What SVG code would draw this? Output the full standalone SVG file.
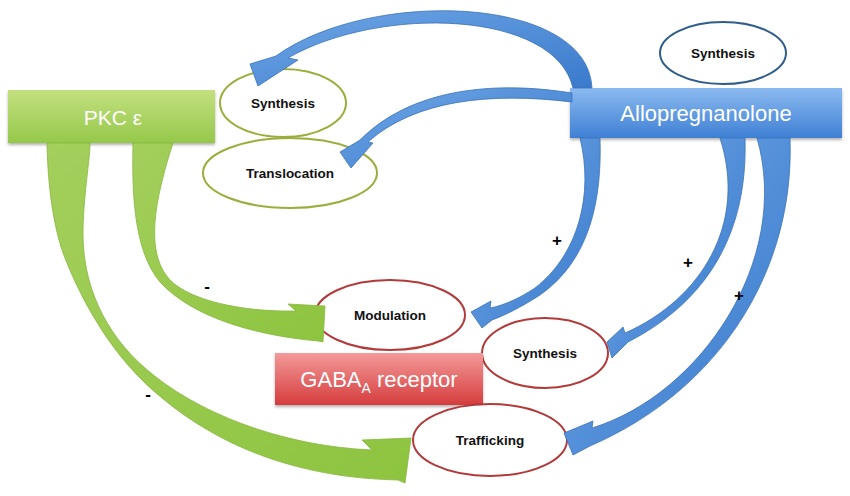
<svg xmlns="http://www.w3.org/2000/svg" width="850" height="496" viewBox="0 0 850 496">
<defs>
<linearGradient id="gGreen" x1="0" y1="0" x2="0" y2="1"><stop offset="0" stop-color="#c3e07f"/><stop offset="1" stop-color="#95c84a"/></linearGradient>
<linearGradient id="gBlue" x1="0" y1="0" x2="0" y2="1"><stop offset="0" stop-color="#8bbaf0"/><stop offset="1" stop-color="#3f80d4"/></linearGradient>
<linearGradient id="gRed" x1="0" y1="0" x2="0" y2="1"><stop offset="0" stop-color="#f39a9a"/><stop offset="1" stop-color="#d63c3c"/></linearGradient>
<linearGradient id="aBlue" x1="0" y1="0" x2="1" y2="1"><stop offset="0" stop-color="#6fa6e6"/><stop offset="1" stop-color="#3a7acc"/></linearGradient>
<linearGradient id="aGreen" x1="0" y1="0" x2="1" y2="1"><stop offset="0" stop-color="#a3cf5c"/><stop offset="1" stop-color="#8dc43f"/></linearGradient>
<filter id="sh" x="-10%" y="-10%" width="120%" height="130%"><feDropShadow dx="0" dy="2" stdDeviation="1.5" flood-color="#000" flood-opacity="0.3"/></filter>
</defs>
<style>
.box{stroke:none;filter:url(#sh)}
.btxt{font-family:"Liberation Sans",Arial,sans-serif;fill:#fff;text-anchor:middle}
.etxt{font-family:"Liberation Sans",Arial,sans-serif;font-weight:bold;font-size:13.5px;fill:#111;text-anchor:middle}
.eg{fill:#fff;stroke:#9aae3c;stroke-width:2}
.er{fill:#fff;stroke:#b23a3a;stroke-width:2}
.eb{fill:#fff;stroke:#2f5d8c;stroke-width:2}
.ag{fill:url(#aGreen);stroke:#86b63e;stroke-width:0.8}
.ab{fill:url(#aBlue);stroke:#3a72b8;stroke-width:0.8}
.sign{font-family:"Liberation Sans",Arial,sans-serif;font-weight:bold;font-size:17px;fill:#000;text-anchor:middle}
</style>

<g id="pkc">
<rect class="box" x="8" y="90" width="207" height="53" fill="url(#gGreen)"/>
<text class="btxt" x="113" y="125" font-size="21">PKC ε</text>
</g>

<g id="allo">
<rect class="box" x="570" y="88" width="272" height="50" fill="url(#gBlue)"/>
<text class="btxt" x="706" y="121" font-size="22">Allopregnanolone</text>
</g>

<g id="synthesis-allo">
<ellipse class="eb" cx="723" cy="53" rx="63" ry="31"/>
<text class="etxt" x="723" y="58">Synthesis</text>
</g>

<g id="synthesis-pkc">
<ellipse class="eg" cx="283" cy="103" rx="63" ry="34"/>
<text class="etxt" x="283" y="108">Synthesis</text>
</g>

<g id="translocation">
<ellipse class="eg" cx="290" cy="173" rx="87" ry="35"/>
<text class="etxt" x="290" y="178">Translocation</text>
</g>

<g id="modulation">
<ellipse class="er" cx="390" cy="315" rx="75" ry="35"/>
<text class="etxt" x="390" y="320">Modulation</text>
</g>

<g id="synthesis-gaba">
<ellipse class="er" cx="545" cy="353" rx="63" ry="35"/>
<text class="etxt" x="545" y="358">Synthesis</text>
</g>

<g id="gaba">
<rect class="box" x="275" y="353" width="208" height="52" fill="url(#gRed)"/>
<text class="btxt" x="379" y="387" font-size="22">GABA<tspan font-size="14" dy="6">A</tspan><tspan dy="-6"> receptor</tspan></text>
</g>

<g id="trafficking">
<ellipse class="er" cx="490" cy="440" rx="77" ry="36"/>
<text class="etxt" x="490" y="445">Trafficking</text>
</g>

<g id="connectors">
<!-- PKC -> Trafficking -->
<path class="ag" d="M47,143 C48,200 57,240 67,263 C82,300 112,358 162,398 C222,448 300,478 398,480 L405,483 L411,438 L362,440 L372,450 C280,446 195,412 145,368 C105,333 82,285 83,230 C84,190 90,160 90,143 Z"/>
<!-- PKC -> Modulation -->
<path class="ag" d="M133,143 C132,190 133,250 160,282 C190,315 250,335 318,341 L323,342 L325,306 L288,304 L296,311 C240,312 190,300 170,280 C150,258 148,220 173,143 Z"/>
<!-- Allo -> green Synthesis -->
<path class="ab" d="M592,88 C588,-5 370,-12 276,56 L250,64 L258,86 L298,60 L288,58 C380,5 555,10 573,88 Z"/>
<!-- Allo -> Translocation -->
<path class="ab" d="M572,93 C490,80 410,90 360,140 L340,152 L351,168 L373,143 L368,142 C415,100 490,92 572,102 Z"/>
<!-- Allo -> Modulation -->
<path class="ab" d="M600,138 C602,200 590,260 540,295 C520,308 505,315 492,320 L482,328 L471,312 L491,301 L490,308 C505,305 520,298 535,288 C578,255 594,195 580,138 Z"/>
<!-- Allo -> red Synthesis -->
<path class="ab" d="M745,138 C748,230 710,300 628,342 L612,358 L607,342 L623,327 L625,333 C700,300 748,225 720,138 Z"/>
<!-- Allo -> Trafficking -->
<path class="ab" d="M790,138 C795,270 720,390 590,446 L573,455 L564,433 L593,421 L592,428 C700,395 792,260 757,138 Z"/>
<text class="sign" x="557" y="246">+</text>
<text class="sign" x="688" y="268">+</text>
<text class="sign" x="739" y="301">+</text>
<text class="sign" x="207" y="292">-</text>
<text class="sign" x="148" y="400">-</text>
</g>
</svg>
